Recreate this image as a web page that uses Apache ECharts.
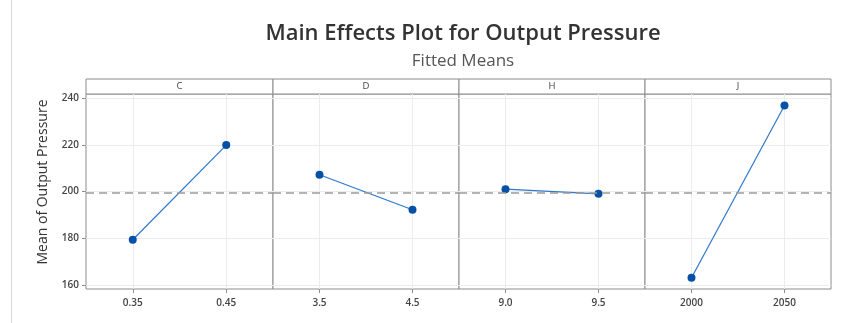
<!DOCTYPE html>
<html><head><meta charset="utf-8">
<script src="https://cdn.jsdelivr.net/npm/echarts@6/dist/echarts.min.js"></script>
<style>html,body{margin:0;padding:0;background:#fff}#c{width:843px;height:323px}</style>
</head><body><div id="c"></div>
<script>
const factors = ["C", "D", "H", "J"];
const levelLabels = [["0.35", "0.45"], ["3.5", "4.5"], ["9.0", "9.5"], ["2000", "2050"]];
const meansC = [179.3, 219.9];
const meansD = [207.2, 192.2];
const meansH = [201.0, 199.0];
const meansJ = [163.0, 236.9];
const overallMean = 199.6;
const yTicks = [160, 180, 200, 220, 240];
const panelMeans = [meansC, meansD, meansH, meansJ];

const panelLefts = [86, 273, 459, 645];
const panelWidths = [187, 186, 186, 186];
const plotTop = 94, plotHeight = 195, headerH = 15;
const font = "'Open Sans', 'Noto Sans', sans-serif";
const borderCol = '#8c8c8c';

const grids = [], xAxes = [], yAxes = [], series = [], graphics = [];
factors.forEach((f, i) => {
  grids.push({left: panelLefts[i], top: plotTop, width: panelWidths[i], height: plotHeight, show: true,
    borderColor: borderCol, borderWidth: 1, backgroundColor: '#fff'});
  xAxes.push({type: 'value', gridIndex: i, min: -0.5, max: 1.5,
    axisLine: {show: false, onZero: false},
    axisTick: {show: true, customValues: [0, 1], length: 4, lineStyle: {color: borderCol}},
    axisLabel: {customValues: [0, 1], formatter: v => levelLabels[i][Math.round(v)],
      fontSize: 10, fontWeight: 600, color: '#444', fontFamily: font, margin: 9},
    splitLine: {show: true, lineStyle: {color: '#ececec'}}});
  yAxes.push({type: 'value', gridIndex: i, min: 158.2, max: 241.8,
    axisLine: {show: false, onZero: false},
    axisTick: {show: i === 0, customValues: yTicks, length: 4, lineStyle: {color: borderCol}},
    axisLabel: {show: i === 0, customValues: yTicks, fontSize: 10, fontWeight: 600, color: '#444', fontFamily: font, margin: 7},
    splitLine: {show: true, lineStyle: {color: '#ececec'}}});
  series.push({type: 'line', xAxisIndex: i, yAxisIndex: i,
    data: panelMeans[i].map((v, k) => [k, v]),
    symbol: 'circle', symbolSize: 8, lineStyle: {color: '#2f78cc', width: 1.2},
    itemStyle: {color: '#0651a8'}, animation: false,
    markLine: {silent: true, symbol: 'none', label: {show: false}, animation: false,
      lineStyle: {color: '#9a9a9a', type: [8, 5], width: 1.5},
      data: [{yAxis: overallMean}]}});
  graphics.push({type: 'rect', shape: {x: panelLefts[i], y: plotTop - headerH, width: panelWidths[i], height: headerH},
    style: {fill: '#fff', stroke: borderCol, lineWidth: 1}});
  graphics.push({type: 'text', x: panelLefts[i] + panelWidths[i] / 2, y: plotTop - headerH / 2,
    style: {text: f, fontSize: 9.5, fill: '#444', fontFamily: font, align: 'center', verticalAlign: 'middle'}});
});
graphics.push({type: 'line', shape: {x1: 11.5, y1: 0, x2: 11.5, y2: 323}, style: {stroke: '#d6d6d6', lineWidth: 1}});
graphics.push({type: 'text', x: 43, y: 182, rotation: Math.PI / 2,
  style: {text: 'Mean of Output Pressure', fontSize: 14, fill: '#333', fontFamily: font, align: 'center', verticalAlign: 'middle'}});

const chart = echarts.init(document.getElementById('c'), null, {renderer: 'canvas'});
chart.setOption({
  animation: false,
  title: [{text: 'Main Effects Plot for Output Pressure', left: 458, top: 18, textAlign: 'center',
    textStyle: {fontSize: 22, fontWeight: 600, color: '#333', fontFamily: font}},
    {text: 'Fitted Means', left: 458, top: 48, textAlign: 'center',
    textStyle: {fontSize: 17, fontWeight: 'normal', color: '#555', fontFamily: font}}],
  grid: grids, xAxis: xAxes, yAxis: yAxes, series: series, graphic: graphics
});
</script></body></html>
